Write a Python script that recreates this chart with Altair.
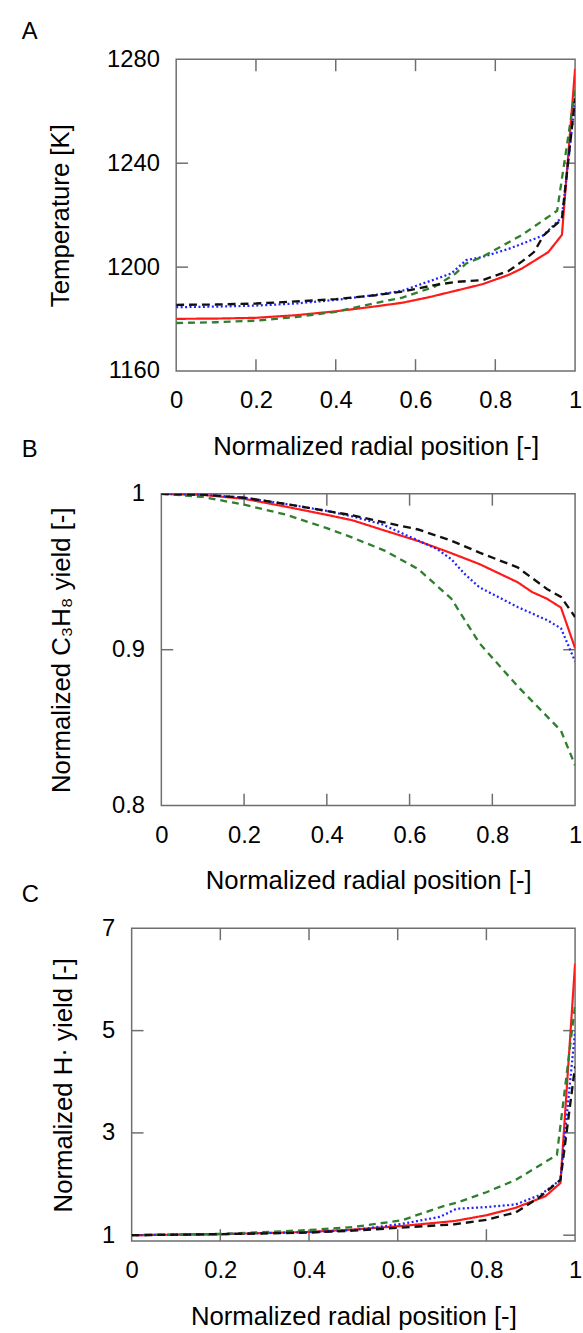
import altair as alt
import pandas as pd

FONT = "Liberation Sans"
FRAME = "#6e6e6e"

SERIES = ["black", "green", "blue", "red"]
COLORS = ["#111111", "#2f7f2f", "#2323ff", "#ff1a1a"]
DASHES = [[8, 5], [7, 5], [2, 2.5], [1, 0]]
WIDTHS = [2.4, 2.2, 2.2, 2.2]

X_TICKS = [0, 0.2, 0.4, 0.6, 0.8, 1]
X_TITLE = "Normalized radial position [-]"

# ---------------- Panel A: temperature ----------------
A_red_x = [0, 0.1, 0.2, 0.3, 0.4, 0.5, 0.567, 0.633, 0.7, 0.767, 0.833, 0.867, 0.933, 0.967, 1.0]
A_red_y = [1180.1, 1180.2, 1180.5, 1181.5, 1183.0, 1184.9, 1186.3, 1188.4, 1190.9, 1193.4, 1197.0, 1199.5, 1205.8, 1212.4, 1276.3]
A_blue_x = [0, 0.1, 0.2, 0.3, 0.4, 0.5, 0.567, 0.648, 0.69, 0.727, 0.767, 0.833, 0.867, 0.92, 0.967, 1.0]
A_blue_y = [1184.6, 1184.8, 1185.2, 1186.0, 1187.4, 1189.3, 1190.9, 1195.3, 1197.6, 1202.7, 1203.9, 1207.0, 1209.0, 1212.2, 1219.2, 1264.0]
A_green_x = [0, 0.1, 0.2, 0.3, 0.4, 0.5, 0.567, 0.648, 0.7, 0.727, 0.767, 0.867, 0.955, 1.0]
A_green_y = [1178.5, 1178.8, 1179.4, 1180.8, 1182.8, 1186.2, 1188.3, 1192.5, 1197.5, 1201.4, 1203.9, 1212.4, 1221.7, 1268.0]
A_black_x = [0, 0.1, 0.2, 0.3, 0.4, 0.5, 0.567, 0.648, 0.706, 0.768, 0.833, 0.868, 0.897, 0.921, 0.967, 1.0]
A_black_y = [1185.5, 1185.6, 1186.0, 1186.8, 1187.7, 1189.2, 1190.6, 1193.1, 1194.4, 1195.0, 1198.5, 1202.3, 1205.8, 1212.2, 1218.5, 1265.0]

# ---------------- Panel B: C3H8 yield ----------------
B_red_x = [0, 0.1, 0.2, 0.3, 0.4, 0.462, 0.533, 0.621, 0.7, 0.769, 0.861, 0.896, 0.932, 0.966, 1.0]
B_red_y = [1.0, 0.9993, 0.9968, 0.9918, 0.9865, 0.983, 0.977, 0.9697, 0.962, 0.9549, 0.9433, 0.937, 0.9327, 0.927, 0.901]
B_blue_x = [0, 0.1, 0.2, 0.3, 0.4, 0.462, 0.533, 0.621, 0.667, 0.701, 0.733, 0.769, 0.861, 0.932, 0.966, 1.0]
B_blue_y = [1.0, 0.9995, 0.9975, 0.9935, 0.989, 0.9855, 0.9805, 0.970, 0.9645, 0.958, 0.9486, 0.940, 0.9274, 0.919, 0.9137, 0.8925]
B_green_x = [0, 0.1, 0.2, 0.3, 0.4, 0.462, 0.541, 0.621, 0.701, 0.769, 0.861, 0.966, 1.0]
B_green_y = [1.0, 0.998, 0.993, 0.9867, 0.978, 0.9719, 0.9634, 0.9517, 0.9327, 0.9041, 0.8766, 0.848, 0.8259]
B_black_x = [0, 0.1, 0.2, 0.3, 0.4, 0.462, 0.533, 0.621, 0.7, 0.769, 0.861, 0.932, 0.966, 1.0]
B_black_y = [1.0, 0.9995, 0.9975, 0.9935, 0.989, 0.9862, 0.982, 0.9771, 0.970, 0.9623, 0.9528, 0.939, 0.9338, 0.921]

# ---------------- Panel C: H radical yield ----------------
C_red_x = [0, 0.2, 0.4, 0.5, 0.609, 0.728, 0.8, 0.866, 0.933, 0.967, 1.0]
C_red_y = [1.0, 1.02, 1.064, 1.11, 1.18, 1.277, 1.39, 1.536, 1.761, 2.02, 6.31]
C_blue_x = [0, 0.2, 0.4, 0.5, 0.609, 0.696, 0.732, 0.8, 0.866, 0.922, 0.967, 1.0]
C_blue_y = [1.0, 1.02, 1.06, 1.10, 1.22, 1.36, 1.516, 1.55, 1.6, 1.79, 2.08, 4.99]
C_green_x = [0, 0.2, 0.4, 0.5, 0.609, 0.7, 0.732, 0.8, 0.866, 0.959, 1.0]
C_green_y = [1.0, 1.025, 1.1, 1.16, 1.29, 1.56, 1.632, 1.84, 2.08, 2.57, 5.5]
C_black_x = [0, 0.2, 0.4, 0.5, 0.609, 0.728, 0.8, 0.866, 0.918, 0.967, 1.0]
C_black_y = [1.0, 1.02, 1.05, 1.09, 1.148, 1.213, 1.30, 1.445, 1.73, 2.08, 4.3]


def frame(series_xy):
    rows = []
    for name, (xs, ys) in series_xy.items():
        for x, y in zip(xs, ys):
            rows.append({"series": name, "x": x, "y": y})
    return pd.DataFrame(rows)


ONE = pd.DataFrame({"k": [0]})


def panel(df, letter, L, T, W, H, ydom, yvals, yfmt, ytitle, ytitle_x, letter_y,
          top_abs, bottom_abs, ytick_inner):
    xscale = alt.Scale(domain=[0, 1], nice=False, zero=False)
    yscale = alt.Scale(domain=ydom, nice=False, zero=False)
    xaxis = alt.Axis(values=X_TICKS, format=".1~f", labelPadding=18, title=X_TITLE,
                     titleY=76, titleBaseline="middle")
    yaxis = alt.Axis(values=yvals, format=yfmt, labelPadding=17, title=ytitle,
                     titleX=ytitle_x, titleBaseline="middle")
    X = alt.X("x:Q", scale=xscale, axis=xaxis)
    Y = alt.Y("y:Q", scale=yscale, axis=yaxis)

    # invisible extent marker: fixes the panel's slot in the page layout
    bounds = alt.Chart(ONE).mark_rule(opacity=0, strokeWidth=0.1).encode(
        x=alt.value(-(L - 1) + 0.5), x2=alt.value(-(L - 1) + 0.5),
        y=alt.value(top_abs - T), y2=alt.value(bottom_abs - T))

    lines = alt.Chart(df).mark_line(clip=True).encode(
        x=X, y=Y,
        color=alt.Color("series:N", scale=alt.Scale(domain=SERIES, range=COLORS), legend=None),
        strokeDash=alt.StrokeDash("series:N", scale=alt.Scale(domain=SERIES, range=DASHES), legend=None),
        strokeWidth=alt.StrokeWidth("series:N", scale=alt.Scale(domain=SERIES, range=WIDTHS), legend=None),
        order=alt.Order("x:Q"),
    )

    xt = pd.DataFrame({"x": [0.2, 0.4, 0.6, 0.8]})
    yt = pd.DataFrame({"y": ytick_inner})
    xb = alt.Chart(xt).mark_rule(color=FRAME, strokeWidth=1.5).encode(
        x=X, y=alt.value(H), y2=alt.value(H - 12))
    xtop = alt.Chart(xt).mark_rule(color=FRAME, strokeWidth=1.5).encode(
        x=X, y=alt.value(0), y2=alt.value(12))
    yl = alt.Chart(yt).mark_rule(color=FRAME, strokeWidth=1.5).encode(
        y=Y, x=alt.value(0), x2=alt.value(12))
    yr = alt.Chart(yt).mark_rule(color=FRAME, strokeWidth=1.5).encode(
        y=Y, x=alt.value(W - 12), x2=alt.value(W))

    lab = alt.Chart(ONE).mark_text(text=letter, align="left", baseline="middle",
                                   fontSize=24, font=FONT, color="#000000").encode(
        x=alt.value(16 - L), y=alt.value(letter_y - T))

    body = alt.layer(bounds, xb, xtop, yl, yr, lines, lab).properties(
        width=W, height=H,
        view=alt.ViewBackground(stroke=FRAME, strokeWidth=1.5))
    spacer = alt.Chart(ONE).mark_point(opacity=0).encode(
        x=alt.value(0), y=alt.value(0)).properties(
        width=1, height=1, view=alt.ViewBackground(strokeOpacity=0))
    return alt.hconcat(spacer, body, spacing=0)


dfA = frame({"red": (A_red_x, A_red_y), "blue": (A_blue_x, A_blue_y),
             "green": (A_green_x, A_green_y), "black": (A_black_x, A_black_y)})
dfB = frame({"red": (B_red_x, B_red_y), "blue": (B_blue_x, B_blue_y),
             "green": (B_green_x, B_green_y), "black": (B_black_x, B_black_y)})
dfC = frame({"red": (C_red_x, C_red_y), "blue": (C_blue_x, C_blue_y),
             "green": (C_green_x, C_green_y), "black": (C_black_x, C_black_y)})

pA = panel(dfA, "A", 172, 52, 403, 315, [1160, 1280], [1160, 1200, 1240, 1280], "d",
           "Temperature [K]", -117, 25, 0, 470, [1200, 1240])
pB = panel(dfB, "B", 157, 489, 418, 315, [0.8, 1.0], [0.8, 0.9, 1.0], ".1~f",
           "Normalized C\u2083H\u2088 yield [-]", -101, 445, 430, 910, [0.9])
pC = panel(dfC, "C", 127, 926, 448, 316, [0.884, 7], [1, 3, 5, 7], "d",
           "Normalized H\u00b7 yield [-]", -69, 892, 870, 1333, [1, 3, 5])

chart = alt.vconcat(pA, pB, pC, spacing=-40).properties(
    padding={"left": 0, "top": 0, "right": 0, "bottom": 0},
    background="white",
).configure_axis(
    labelFont=FONT, labelFontSize=24, labelColor="#000000",
    titleFont=FONT, titleFontSize=26, titleFontWeight="normal", titleColor="#000000",
    domain=False, ticks=False, tickSize=0, grid=False,
    labelFlush=False, labelOverlap=False, labelBound=False,
)

chart.save("out.html", embed_options={"renderer": "svg", "actions": False})
